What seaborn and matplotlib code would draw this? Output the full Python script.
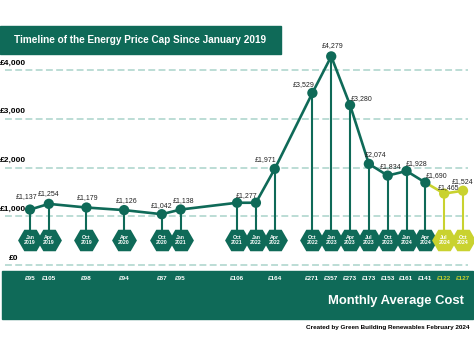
import numpy as np
import pandas as pd
import matplotlib
matplotlib.use("Agg")
import matplotlib.pyplot as plt
import matplotlib.transforms as mtransforms
from matplotlib.patches import Rectangle
import seaborn as sns

# data
months = ["Jan", "Apr", "Oct", "Apr", "Oct", "Jan", "Oct", "Jan", "Apr",
          "Oct", "Jan", "Apr", "Jul", "Oct", "Jan", "Apr", "Jul", "Oct"]
years = [2019, 2019, 2019, 2020, 2020, 2021, 2021, 2022, 2022,
         2022, 2023, 2023, 2023, 2023, 2024, 2024, 2024, 2024]
caps = [1137, 1254, 1179, 1126, 1042, 1138, 1277, 1277, 1971,
        3529, 4279, 3280, 2074, 1834, 1928, 1690, 1465, 1524]
monthly = [95, 105, 98, 94, 87, 95, 106, None, 164,
           271, 357, 273, 173, 153, 161, 141, 122, 127]
forecast = [False] * 16 + [True] * 2
show_label = [True] * 7 + [False] + [True] * 10
y_ticks = [0, 1000, 2000, 3000, 4000]

# label offsets in pixels (layout only)
label_dx = [-3, 0, 1, 2, 0, 3, 9, 0, -9, -9, 1, 12, 7, 3, 10, 11, 4, 0]
label_dy = [13, 10, 10, 10, 9, 9, 7, 0, 9, 8, 11, 7, 9, 9, 7, 7, 6, 9]

month_num = {"Jan": 0, "Apr": 1, "Jul": 2, "Oct": 3}
df = pd.DataFrame({"month": months, "year": years, "cap": caps,
                   "monthly": monthly, "forecast": forecast})
df["q"] = (df["year"] - 2019) * 4 + df["month"].map(month_num)

GREEN = "#0f6a58"
YELLOW = "#c9d22f"
GRID = "#a9d3ca"

sns.set_style("white")
plt.rcParams["font.family"] = ["Liberation Sans", "DejaVu Sans"]

W, H = 474, 355
fig = plt.figure(figsize=(W / 100, H / 100), dpi=100)
ax = fig.add_axes([0, 0, 1, 1])

# pixel mapping: quarter 0 -> x=30px, quarter 23 -> x=463px ; 0 -> y=265px, 4000 -> y=70px
pxq = (463 - 30) / 23
pyv = (265 - 70) / 4000
ax.set_xlim(-30 / pxq, (W - 30) / pxq)
ax.set_ylim(-(H - 265) / pyv, 265 / pyv)

# dashed grid
for v in y_ticks:
    ax.axhline(v, xmin=5 / W, xmax=468 / W, color=GRID, lw=1.1,
               dashes=(4.5, 2.2), zorder=1)

# y labels
for v in y_ticks:
    x0 = 9 if v == 0 else 0
    ax.annotate(f"£{v:,}", xy=(x0 / W, v), xycoords=("axes fraction", "data"),
                xytext=(0, 7), textcoords="offset pixels", ha="left", va="center",
                fontsize=6.0, fontweight="bold", color="black", zorder=5)

# stems and hexagons
hex_y = (H - 240) / H
blend = mtransforms.blended_transform_factory(ax.transData, ax.transAxes)
for i, r in df.iterrows():
    c = YELLOW if r["forecast"] else GREEN
    ax.plot([r["q"], r["q"]], [r["cap"], (265 - 240) / pyv], color=c, lw=1.5, zorder=2)
    ax.scatter([r["q"]], [hex_y], marker="H", s=320, color=c, transform=blend,
               zorder=4, linewidths=0)
    ax.text(r["q"], hex_y, f"{r['month']}\n{r['year']}", transform=blend,
            ha="center", va="center", fontsize=3.7, fontweight="bold",
            color="white", linespacing=1.1, zorder=5)

# main line
hist = df[~df["forecast"]]
fut = df.iloc[15:]
sns.lineplot(data=hist, x="q", y="cap", color=GREEN, lw=1.9, ax=ax, zorder=3)
sns.lineplot(data=fut, x="q", y="cap", color=YELLOW, lw=1.9, ax=ax, zorder=3)
sns.scatterplot(data=df, x="q", y="cap", hue="forecast",
                palette={False: GREEN, True: YELLOW}, s=55, linewidth=0,
                legend=False, ax=ax, zorder=4)
ax.axis("off")

# value labels
for i, r in df.iterrows():
    if not show_label[i]:
        continue
    ax.annotate(f"£{r['cap']:,}", xy=(r["q"], r["cap"]),
                xytext=(label_dx[i], label_dy[i]), textcoords="offset pixels",
                ha="center", va="center", fontsize=5.0, color="#222222", zorder=6)

# title box
ax.add_patch(Rectangle((0, (H - 54) / H), 281 / W, 28 / H,
                       transform=ax.transAxes, color=GREEN, zorder=0, clip_on=False))
ax.text(140 / W, (H - 40) / H, "Timeline of the Energy Price Cap Since January 2019",
        transform=ax.transAxes, ha="center", va="center", color="white",
        fontsize=7.2, fontweight="bold", zorder=6)

# bottom band
ax.add_patch(Rectangle((2 / W, (H - 319) / H), 471 / W, 48 / H,
                       transform=ax.transAxes, color=GREEN, zorder=0, clip_on=False))
for i, r in df.iterrows():
    if pd.isna(r["monthly"]):
        continue
    ax.text(r["q"], (H - 278) / H, f"£{int(r['monthly'])}", transform=blend,
            ha="center", va="center", fontsize=4.6, fontweight="bold",
            color=YELLOW if r["forecast"] else "white", zorder=6)
ax.text(464 / W, (H - 301) / H, "Monthly Average Cost", transform=ax.transAxes,
        ha="right", va="center", color="white", fontsize=9.4, fontweight="bold", zorder=6)
ax.text(470 / W, (H - 327) / H, "Created by Green Building Renewables February 2024",
        transform=ax.transAxes, ha="right", va="center", color="black",
        fontsize=4.6, fontweight="bold", zorder=6)

fig.savefig("out.png", dpi=100)
